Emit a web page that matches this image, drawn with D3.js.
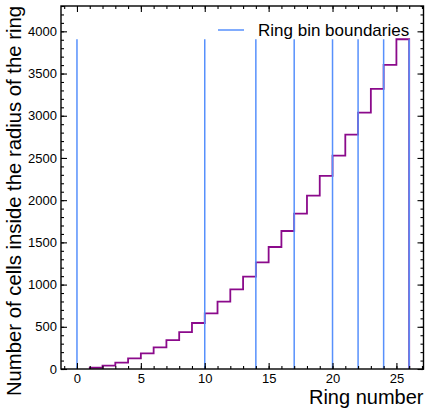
<!DOCTYPE html>
<html><head><meta charset="utf-8">
<script src="https://cdn.jsdelivr.net/npm/d3@7"></script>
<style>html,body{margin:0;padding:0;background:#fff;}svg{display:block;font-family:"Liberation Sans",Arial,Helvetica,sans-serif;}</style>
</head><body>
<svg id="c" width="428" height="414"></svg>
<script>
// Data
const binEdgesStart = [1,2,3,4,5,6,7,8,9,10,11,12,13,14,15,16,17,18,19,20,21,22,23,24,25];
const cellCounts = [15,39,75,125,184,255,342,438,545,660,797,944,1094,1264,1445,1635,1840,2053,2287,2527,2776,3037,3318,3602,3906];
const ringBoundaries = [0,10,14,17,20,22,24,26];
const xTicks = [0,5,10,15,20,25];
const yTicks = [0,500,1000,1500,2000,2500,3000,3500,4000];

const svg = d3.select("#c");
const L=61, R=423.5, T=6, B=369;
const x = d3.scaleLinear().domain([-1.25,27.12]).range([L,R]);
const y = d3.scaleLinear().domain([0,4300]).range([B,T]);

// histogram step
const pts = [[binEdgesStart[0],0]];
binEdgesStart.forEach((s,i)=>{pts.push([s,cellCounts[i]]);pts.push([s+1,cellCounts[i]]);});
pts.push([binEdgesStart[binEdgesStart.length-1]+1,0]);
svg.append("path").attr("d",d3.line().x(d=>x(d[0])).y(d=>y(d[1]))(pts))
  .attr("fill","none").attr("stroke","#8b0a8b").attr("stroke-width",1.8);

// boundaries
const vmax = d3.max(cellCounts);
svg.selectAll("line.vb").data(ringBoundaries).enter().append("line")
  .attr("x1",d=>x(d)).attr("x2",d=>x(d)).attr("y1",y(0)).attr("y2",y(vmax))
  .attr("stroke","#5790fc").attr("stroke-width",1.5);

// axes
const xMinor = d3.range(-1,28,1);
const yMinor = d3.range(0,4301,100);
function ax(g, axisGen){ g.call(axisGen); g.select(".domain").remove(); g.selectAll("line").attr("stroke","#000").attr("stroke-width",1.1); }
const fs = 13;
// bottom
const gb = svg.append("g").attr("transform",`translate(0,${B})`);
ax(gb, d3.axisBottom(x).tickValues(xMinor).tickSize(-3).tickFormat(""));
const gb2 = svg.append("g").attr("transform",`translate(0,${B})`);
ax(gb2, d3.axisBottom(x).tickValues(xTicks).tickSize(-6).tickPadding(5).tickFormat(d3.format("d")));
gb2.selectAll("text").attr("font-size",fs).attr("fill","#000").attr("font-family","Liberation Sans, Arial, sans-serif");
// top
const gt = svg.append("g").attr("transform",`translate(0,${T})`);
ax(gt, d3.axisTop(x).tickValues(xMinor).tickSize(-3).tickFormat(""));
const gt2 = svg.append("g").attr("transform",`translate(0,${T})`);
ax(gt2, d3.axisTop(x).tickValues(xTicks).tickSize(-6).tickFormat(""));
// left
const gl = svg.append("g").attr("transform",`translate(${L},0)`);
ax(gl, d3.axisLeft(y).tickValues(yMinor).tickSize(-3).tickFormat(""));
const gl2 = svg.append("g").attr("transform",`translate(${L},0)`);
ax(gl2, d3.axisLeft(y).tickValues(yTicks).tickSize(-6).tickPadding(4).tickFormat(d3.format("d")));
gl2.selectAll("text").attr("font-size",fs).attr("fill","#000").attr("font-family","Liberation Sans, Arial, sans-serif");
// right
const gr = svg.append("g").attr("transform",`translate(${R},0)`);
ax(gr, d3.axisRight(y).tickValues(yMinor).tickSize(-3).tickFormat(""));
const gr2 = svg.append("g").attr("transform",`translate(${R},0)`);
ax(gr2, d3.axisRight(y).tickValues(yTicks).tickSize(-6).tickFormat(""));

// frame
svg.append("rect").attr("x",L).attr("y",T).attr("width",R-L).attr("height",B-T)
  .attr("fill","none").attr("stroke","#000").attr("stroke-width",1.4);

// labels
svg.append("text").attr("x",R).attr("y",404).attr("text-anchor","end")
  .attr("font-size",20).attr("fill","#000").text("Ring number");
svg.append("text").attr("transform",`translate(21,${T}) rotate(-90)`).attr("text-anchor","end")
  .attr("font-size",20.3).attr("fill","#000").text("Number of cells inside the radius of the ring");

// legend
svg.append("line").attr("x1",218).attr("x2",244).attr("y1",30).attr("y2",30)
  .attr("stroke","#5790fc").attr("stroke-width",1.5);
svg.append("text").attr("x",258).attr("y",35.5).attr("font-size",17).attr("fill","#000").text("Ring bin boundaries");
</script>
</body></html>
